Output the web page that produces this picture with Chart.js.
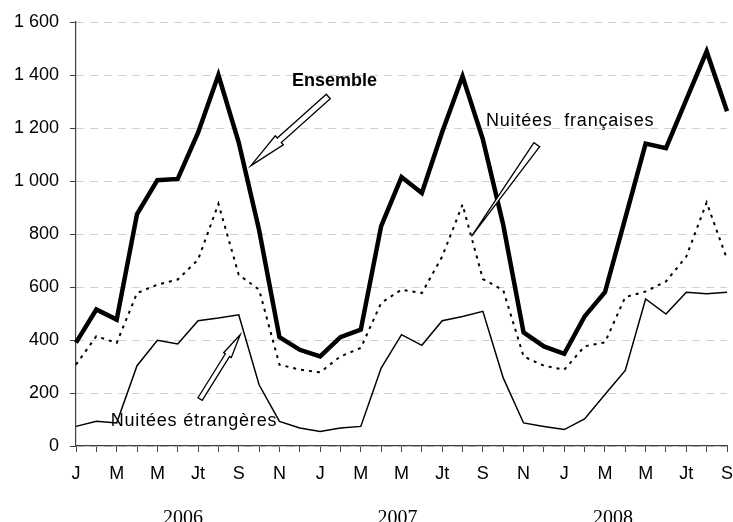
<!DOCTYPE html>
<html>
<head>
<meta charset="utf-8">
<script src="https://cdn.jsdelivr.net/npm/chart.js@4/dist/chart.umd.min.js"></script>
<style>
html,body{margin:0;padding:0;background:#fff;}
#wrap{width:733px;height:522px;position:relative;}
</style>
</head>
<body>
<div id="wrap"><canvas id="c" width="733" height="522"></canvas></div>
<script>
// ---- data ----
const months = ['J','F','M','A','M','J','Jt','A','S','O','N','D',
                'J','F','M','A','M','J','Jt','A','S','O','N','D',
                'J','F','M','A','M','J','Jt','A','S'];
const years = ['2006','2007','2008'];
const ensemble = [390,515,477,875,1003,1008,1182,1400,1145,815,411,363,
                  338,411,439,830,1015,955,1185,1395,1157,835,429,376,
                  348,489,580,860,1141,1124,1307,1489,1263];
const francaises = [307,414,389,577,609,628,703,914,646,590,307,288,
                    278,338,370,540,590,577,715,911,630,588,338,303,
                    288,376,391,562,583,621,715,919,705];
const etrangeres = [74,93,87,303,399,385,473,483,495,231,93,68,
                    55,68,74,294,420,380,473,489,508,257,87,74,
                    62,102,194,285,555,498,580,575,580];
const yTicks = [0,200,400,600,800,1000,1200,1400,1600];

const FONT = "'Liberation Sans', Arial, sans-serif";

function blockArrow(ctx, x0, y0, x1, y1, shaftW, headW, headL){
  const dx = x1-x0, dy = y1-y0, L = Math.hypot(dx,dy);
  const ux = dx/L, uy = dy/L, nx = -uy, ny = ux;
  const pts = [];
  if (headL > 0){
    const bx = x1-ux*headL, by = y1-uy*headL;
    pts.push([x0+nx*shaftW/2, y0+ny*shaftW/2],
             [bx+nx*shaftW/2, by+ny*shaftW/2],
             [bx+nx*headW/2, by+ny*headW/2],
             [x1, y1],
             [bx-nx*headW/2, by-ny*headW/2],
             [bx-nx*shaftW/2, by-ny*shaftW/2],
             [x0-nx*shaftW/2, y0-ny*shaftW/2]);
  } else {
    pts.push([x0+nx*shaftW/2, y0+ny*shaftW/2],[x1,y1],[x0-nx*shaftW/2, y0-ny*shaftW/2]);
  }
  ctx.beginPath();
  pts.forEach((p,i)=> i ? ctx.lineTo(p[0],p[1]) : ctx.moveTo(p[0],p[1]));
  ctx.closePath();
  ctx.fillStyle = '#fff';
  ctx.fill();
  ctx.lineWidth = 1.3;
  ctx.strokeStyle = '#000';
  ctx.lineJoin = 'miter';
  ctx.stroke();
}

const annot = {
  id: 'annot',
  afterDatasetsDraw(chart){
    const {ctx, scales:{x, y}} = chart;
    const P = (i, v) => [x.getPixelForValue(i), y.getPixelForValue(v)];
    ctx.save();
    // arrows (data coordinates: [index, value])
    let a, b;
    a = P(12.4, 1319); b = P(8.6, 1058);
    blockArrow(ctx, a[0], a[1], b[0], b[1], 6, 12, 38);
    a = P(22.65, 1137); b = P(19.44, 791);
    blockArrow(ctx, a[0], a[1], b[0], b[1], 7, 0, 0);
    a = P(6.1, 177); b = P(8.07, 420);
    blockArrow(ctx, a[0], a[1], b[0], b[1], 5, 9, 24);
    // labels
    ctx.fillStyle = '#000';
    ctx.textAlign = 'center';
    ctx.textBaseline = 'alphabetic';
    ctx.font = 'bold 18px ' + FONT;
    let p = P(12.71, 1360);
    ctx.fillText('Ensemble', p[0], p[1]);
    ctx.font = '18px ' + FONT;
    if ('letterSpacing' in ctx) ctx.letterSpacing = '0.8px';
    p = P(24.29, 1206);
    ctx.fillText('Nuitées  françaises', p[0], p[1]);
    p = P(5.8, 77);
    ctx.fillText('Nuitées étrangères', p[0], p[1]);
    if ('letterSpacing' in ctx) ctx.letterSpacing = '0px';
    // year labels
    ctx.font = '20px "Liberation Serif", "Times New Roman", serif';
    const yearPos = [5.26, 15.8, 26.4];
    years.forEach((t, k) => {
      ctx.fillText(t, x.getPixelForValue(yearPos[k]), 523.5);
    });
    ctx.restore();
  }
};

new Chart(document.getElementById('c'), {
  type: 'line',
  data: {
    labels: months,
    datasets: [
      {label:'Nuitées étrangères', data: etrangeres, borderColor:'#000', borderWidth:1.5, pointRadius:0, tension:0, fill:false},
      {label:'Nuitées françaises', data: francaises, borderColor:'#000', borderWidth:2, borderDash:[3,5], pointRadius:0, tension:0, fill:false},
      {label:'Ensemble', data: ensemble, borderColor:'#000', borderWidth:4.5, pointRadius:0, tension:0, fill:false, borderJoinStyle:'miter'}
    ]
  },
  options: {
    responsive: false,
    animation: false,
    devicePixelRatio: 1,
    layout: {padding: {top: 22, right: 6, left: 0, bottom: 0}},
    plugins: {legend:{display:false}, tooltip:{enabled:false}, title:{display:false}},
    scales: {
      x: {
        offset: false,
        grid: {drawOnChartArea:false, drawTicks:true, tickLength:6, tickColor:'#404040', tickWidth:1},
        border: {display:true, color:'#404040', width:1.2},
        ticks: {
          autoSkip:false, maxRotation:0, minRotation:0, padding:11, color:'#000',
          font:{family:FONT, size:18},
          callback: function(v, i){ return i % 2 === 0 ? months[i] : ''; }
        },
        afterFit: s => { s.height = 76; s.paddingLeft = 0; s.paddingRight = 0; }
      },
      y: {
        min: 0, max: 1600,
        afterBuildTicks: s => { s.ticks = yTicks.map(v => ({value:v})); },
        grid: {color:'#cfcfcf', lineWidth:1, tickLength:6, tickColor:'#404040', drawTicks:true},
        border: {display:true, color:'#404040', width:1.2, dash:[8,6]},
        ticks: {
          padding:11, color:'#000', font:{family:FONT, size:18},
          callback: v => String(v).replace(/\B(?=(\d{3})+(?!\d))/g, ' ')
        },
        afterFit: s => { s.width = 76; s.paddingTop = 0; s.paddingBottom = 0; }
      }
    }
  },
  plugins: [annot]
});
</script>
</body>
</html>
